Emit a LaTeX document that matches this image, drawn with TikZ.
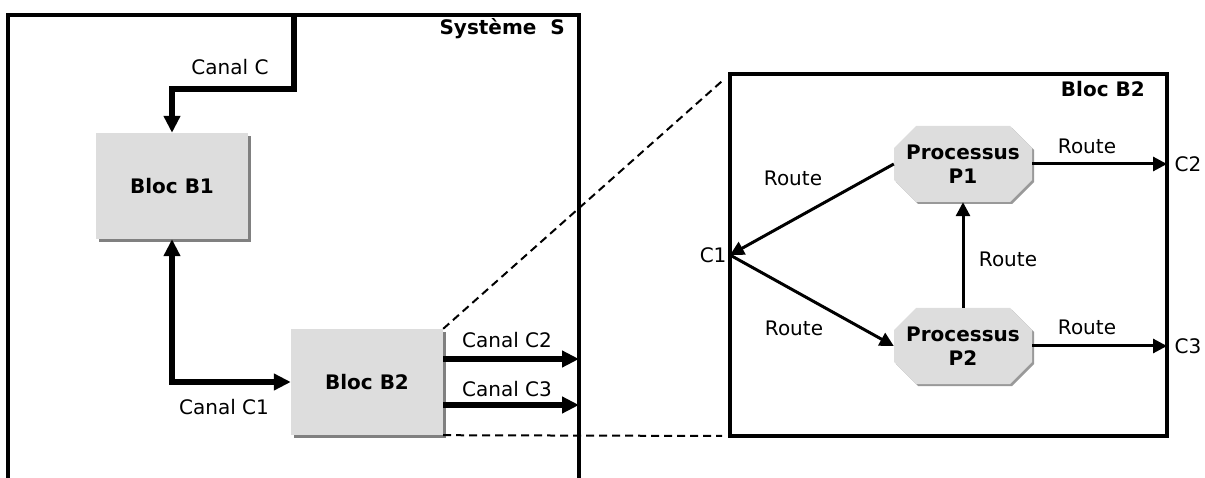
\documentclass[tikz,border=0pt]{standalone}
\usepackage{fontspec}
\setmainfont{DejaVu Sans}
\usetikzlibrary{positioning, calc, arrows.meta, shapes.misc, shadows}

\begin{document}
\begin{tikzpicture}[x=1pt, y=-1pt,
    bloc/.style={fill=gray!27, minimum width=152pt, minimum height=106pt, inner sep=0pt,
        font=\bfseries\fontsize{20}{24}\selectfont,
        drop shadow={shadow xshift=3pt, shadow yshift=-3pt, fill=gray, opacity=1}},
    processus/.style={chamfered rectangle, chamfered rectangle xsep=11pt, chamfered rectangle ysep=11pt,
        fill=gray!27, minimum width=138pt, minimum height=76pt, inner sep=0pt, align=center,
        font=\bfseries\fontsize{20}{24}\selectfont,
        drop shadow={shadow xshift=2pt, shadow yshift=-2pt, fill=gray!80, opacity=1}},
    etiq/.style={font=\fontsize{20}{24}\selectfont},
    titre/.style={font=\bfseries\fontsize{20}{24}\selectfont, inner sep=0pt},
    canal/.style={line width=5.5pt, >={Triangle[length=17pt, width=16pt]}},
    route/.style={line width=3pt, >={Triangle[length=14pt, width=14pt]}, ->},
    cadre/.style={line width=3.5pt},
    loupe/.style={line width=2pt, dash pattern=on 8pt off 5pt}]

    \useasboundingbox (0,0) rectangle (1205,478);

    % Systeme S
    \draw[cadre] (8,478) -- (8,15) -- (579,15) -- (579,478);
    \node[titre, anchor=east] (titreS) at (565,29) {Système~~S};

    % Blocs
    \node[bloc] (B1) at (172,186) {Bloc B1};
    \node[bloc] (B2) at (367,382) {Bloc B2};

    % Canal C
    \coordinate (entree) at (294,15);
    \coordinate (coude) at (294,89);
    \draw[canal, ->] (entree) -- (coude) -| (B1.north);
    \node[etiq] (lC) at (230,67) {Canal C};

    % Canal C1
    \draw[canal, <->] (B1.south) |- (B2.west);
    \node[etiq] (lC1) at (224,407) {Canal C1};

    % Canaux C2 et C3
    \coordinate (sC2) at (579,359);
    \coordinate (sC3) at (579,405);
    \draw[canal, ->] (B2.east |- sC2) -- (sC2);
    \draw[canal, ->] (B2.east |- sC3) -- (sC3);
    \node[etiq] (lC2) at (507,340) {Canal C2};
    \node[etiq] (lC3) at (507,389) {Canal C3};

    % Vue de B2
    \node[draw, cadre, minimum width=437pt, minimum height=362pt, inner sep=0pt, outer sep=0pt] (vue) at (948.5,255) {};
    \node[titre, anchor=east] (titreB2) at (1145,89) {Bloc B2};
    \draw[loupe, shorten >=7pt] (B2.north east) -- (vue.north west);
    \draw[loupe, shorten >=8pt] (B2.south east) -- (vue.south west);

    % Processus
    \node[processus] (P1) at (963,164) {Processus\\P1};
    \node[processus] (P2) at (963,346) {Processus\\P2};
    \coordinate (C1) at (vue.west);
    \coordinate (C2) at (vue.east |- P1.east);
    \coordinate (C3) at (vue.east |- P2.east);

    % Routes
    \draw[route] (P1.west) -- (C1);
    \draw[route] (C1) -- (P2.west);
    \draw[route] (P2.north) -- (P1.south);
    \draw[route] (P1.east) -- (C2);
    \draw[route] (P2.east) -- (C3);
    \node[etiq] (r1) at (793,178) {Route};
    \node[etiq] (r2) at (794,328) {Route};
    \node[etiq] (r3) at (1008,259) {Route};
    \node[etiq] (r4) at (1087,146) {Route};
    \node[etiq] (r5) at (1087,327) {Route};
    \node[etiq, left] (lC1b) at (C1) {C1};
    \node[etiq, right=4pt] (lC2b) at (C2) {C2};
    \node[etiq, right=4pt] (lC3b) at (C3) {C3};
\end{tikzpicture}
\end{document}
